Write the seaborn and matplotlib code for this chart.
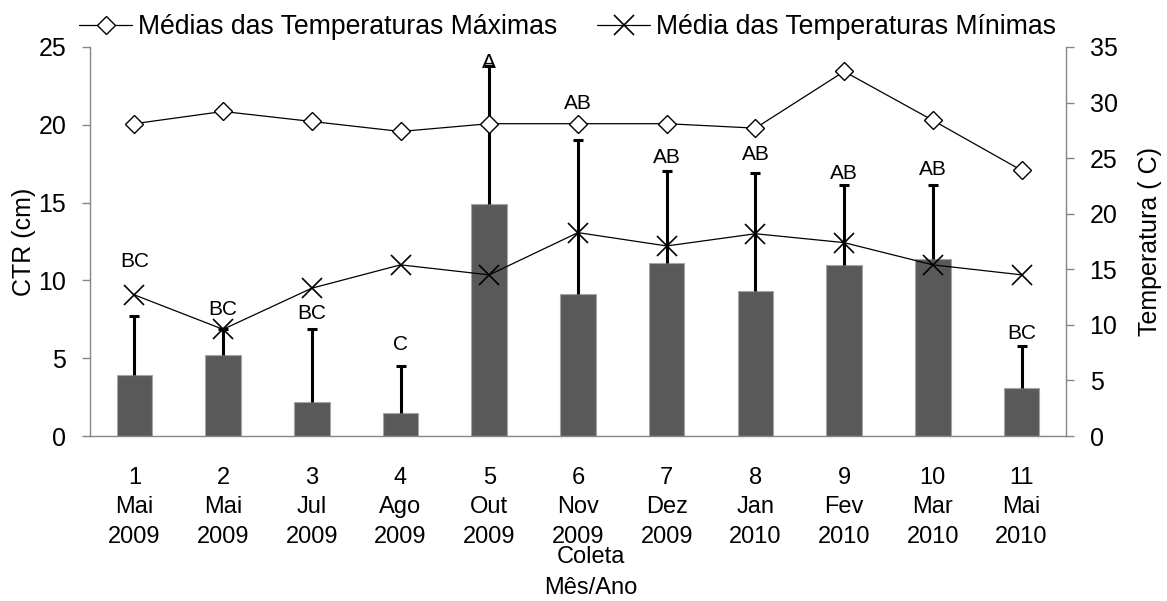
import numpy as np
import pandas as pd
import matplotlib
matplotlib.use('Agg')
import matplotlib.pyplot as plt
import seaborn as sns

# dados
coleta = ['1', '2', '3', '4', '5', '6', '7', '8', '9', '10', '11']
meses = ['Mai', 'Mai', 'Jul', 'Ago', 'Out', 'Nov', 'Dez', 'Jan', 'Fev', 'Mar', 'Mai']
anos = ['2009', '2009', '2009', '2009', '2009', '2009', '2009', '2010', '2010', '2010', '2010']
ctr = [3.9, 5.2, 2.2, 1.5, 14.9, 9.1, 11.1, 9.3, 11.0, 11.4, 3.1]
ctr_dp = [3.8, 1.7, 4.7, 3.0, 8.9, 9.9, 5.9, 7.6, 5.1, 4.7, 2.7]
letras = ['BC', 'BC', 'BC', 'C', 'A', 'AB', 'AB', 'AB', 'AB', 'AB', 'BC']
letras_y = [11.2, 8.1, 7.9, 5.9, 24.0, 21.4, 17.9, 18.1, 16.9, 17.1, 6.6]
t_max = [28.1, 29.2, 28.3, 27.4, 28.1, 28.1, 28.1, 27.7, 32.8, 28.4, 23.9]
t_min = [12.7, 9.6, 13.3, 15.4, 14.5, 18.3, 17.1, 18.2, 17.4, 15.4, 14.5]

sns.set_style('white')
plt.rcParams['font.family'] = ['Liberation Sans', 'DejaVu Sans']
plt.rcParams['text.color'] = 'black'
plt.rcParams['axes.labelcolor'] = 'black'

gray = '#868686'
df = pd.DataFrame({'coleta': coleta, 'ctr': ctr})
pos = np.arange(len(coleta))

fig = plt.figure(figsize=(11.67, 6.01), dpi=100)
ax = fig.add_axes([0.0771, 0.2745, 0.8363, 0.6473])

sns.barplot(data=df, x='coleta', y='ctr', color='#595959', saturation=1,
            width=0.4, errorbar=None, edgecolor='#a6a6a6', linewidth=0.8, ax=ax)
# desvio so para cima
eb = ax.errorbar(pos, ctr, yerr=[np.zeros(len(ctr)), ctr_dp], fmt='none',
                 ecolor='black', elinewidth=2.2, capsize=3.5, capthick=2.2, zorder=3)
eb[1][0].set_visible(False)

for x, ly, lt in zip(pos, letras_y, letras):
    ax.text(x, ly, lt, ha='center', va='center', fontsize=15, zorder=4)

ax.set_xlim(-0.5, 10.5)
ax.set_ylim(0, 25)
ax.set_yticks(range(0, 26, 5))
ax.set_xticks(pos)
ax.set_xticklabels([f'{c}\n{m}\n{a}' for c, m, a in zip(coleta, meses, anos)],
                   linespacing=1.45, fontsize=17)
ax.set_xticks(np.arange(-0.5, 11, 1), minor=True)
ax.tick_params(axis='x', which='major', length=0, pad=22, labelcolor='black')
ax.tick_params(axis='x', which='minor', length=7, color=gray, width=1)
ax.tick_params(axis='y', length=6, color=gray, width=1, pad=11, labelsize=18,
               left=True, labelcolor='black')
ax.set_xlabel('Coleta\nMês/Ano', fontsize=17, linespacing=1.5)
ax.xaxis.set_label_coords(0.513, -0.283)
ax.set_ylabel('CTR (cm)', fontsize=18, labelpad=2)

ax2 = ax.twinx()
sns.lineplot(x=pos, y=t_max, ax=ax2, color='black', lw=0.9, marker='D', ms=9.5,
             mfc='white', mec='black', mew=1.0, label='Médias das Temperaturas Máximas')
sns.lineplot(x=pos, y=t_min, ax=ax2, color='black', lw=0.9, marker='x', ms=14,
             mec='black', mew=1.2, label='Média das Temperaturas Mínimas')
if ax2.get_legend() is not None:
    ax2.get_legend().remove()
ax2.set_ylim(0, 35)
ax2.set_yticks(range(0, 36, 5))
ax2.tick_params(axis='y', length=6, color=gray, width=1, pad=11, labelsize=18,
                right=True, labelcolor='black')
ax2.set_ylabel('Temperatura ( C)', fontsize=18, labelpad=15)

for s in ['top', 'right']:
    ax.spines[s].set_visible(False)
for s in ['top', 'left', 'bottom']:
    ax2.spines[s].set_visible(False)
for s in ['left', 'bottom']:
    ax.spines[s].set_color(gray)
    ax.spines[s].set_linewidth(1)
ax2.spines['right'].set_color(gray)
ax2.spines['right'].set_linewidth(1)

h, l = ax2.get_legend_handles_labels()
fig.legend(h, l, loc='center left', bbox_to_anchor=(79 / 1167, 1 - 27 / 601),
           ncol=2, frameon=False, fontsize=19.2, handlelength=2.0, handletextpad=0.2,
           columnspacing=1.5, borderpad=0, borderaxespad=0)

fig.savefig('out.png', dpi=100)
